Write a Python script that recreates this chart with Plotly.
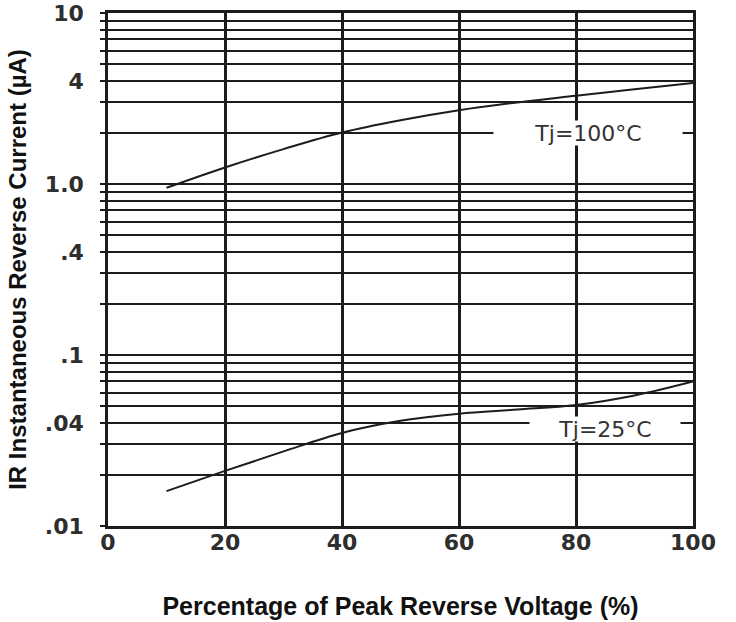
import numpy as np
import plotly.graph_objects as go

# ---- data ----
pct = [10, 20, 30, 40, 50, 60, 70, 80, 90, 100]
ir_100C = [0.95, 1.25, 1.6, 2.0, 2.36, 2.7, 3.0, 3.28, 3.58, 3.9]
ir_25C = [0.016, 0.021, 0.0273, 0.035, 0.0412, 0.0454, 0.048, 0.051, 0.058, 0.07]

x_ticks = [0, 20, 40, 60, 80, 100]
y_label_vals = [0.01, 0.04, 0.1, 0.4, 1.0, 4.0, 10.0]
y_label_text = [".01", ".04", ".1", ".4", "1.0", "4", "10"]

# log grid lines: 1..9 in every decade from 0.01 to 10
y_grid_vals = [round(m * d, 6) for d in (0.01, 0.1, 1.0) for m in range(1, 10)] + [10.0]
label_map = {round(v, 6): t for v, t in zip(y_label_vals, y_label_text)}
y_grid_text = [label_map.get(v, "") for v in y_grid_vals]

INK = "#1c1c1c"
TXT = "#2e2e2e"

fig = go.Figure()
fig.add_trace(go.Scatter(x=pct, y=ir_100C, mode="lines", line=dict(color=INK, width=2, shape="spline"),
                         name="Tj=100°C", showlegend=False))
fig.add_trace(go.Scatter(x=pct, y=ir_25C, mode="lines", line=dict(color=INK, width=2, shape="spline"),
                         name="Tj=25°C", showlegend=False))

fig.add_annotation(x=82, y=np.log10(2.0), xref="x", yref="y", text="Tj=100°C", showarrow=False,
                   font=dict(family="DejaVu Sans", size=22, color="#333333"),
                   bgcolor="white", width=188, height=24, borderpad=0)
fig.add_annotation(x=85, y=np.log10(0.037), xref="x", yref="y", text="Tj=25°C", showarrow=False,
                   font=dict(family="DejaVu Sans", size=22, color="#333333"),
                   bgcolor="white", width=150, height=24, borderpad=0)

fig.update_xaxes(range=[0, 100], tickvals=x_ticks, ticktext=[str(v) for v in x_ticks],
                 showgrid=True, gridcolor=INK, gridwidth=2.5, zeroline=False,
                 showline=True, linecolor=INK, linewidth=2.5, mirror=True, ticks="",
                 tickfont=dict(family="DejaVu Sans", size=22, color=TXT, weight="bold"),
                 ticklabelstandoff=-5, ticklabeloverflow="allow",
                 title=dict(text="<b>Percentage of Peak Reverse Voltage (%)</b>",
                            font=dict(family="Liberation Sans", size=25, color="#111111"),
                            standoff=44))
fig.update_yaxes(type="log", range=[-2, 1], tickvals=y_grid_vals, ticktext=y_grid_text,
                 showgrid=True, gridcolor=INK, gridwidth=2, zeroline=False,
                 showline=True, linecolor=INK, linewidth=2.5, mirror=True,
                 ticks="outside", ticklen=5, tickwidth=2, tickcolor=INK,
                 tickfont=dict(family="DejaVu Sans", size=22, color=TXT, weight="bold"),
                 ticklabelstandoff=12, ticklabeloverflow="allow",
                 title=dict(text="<b>IR Instantaneous Reverse Current (µA)</b>",
                            font=dict(family="Liberation Sans", size=24, color="#111111"),
                            standoff=12))

fig.update_layout(width=736, height=622, margin=dict(l=108, r=43, t=13, b=96, autoexpand=False),
                  paper_bgcolor="white", plot_bgcolor="white")

fig.write_html("out.html", config={"displayModeBar": False},
               post_script="document.body.style.margin='0px';")
